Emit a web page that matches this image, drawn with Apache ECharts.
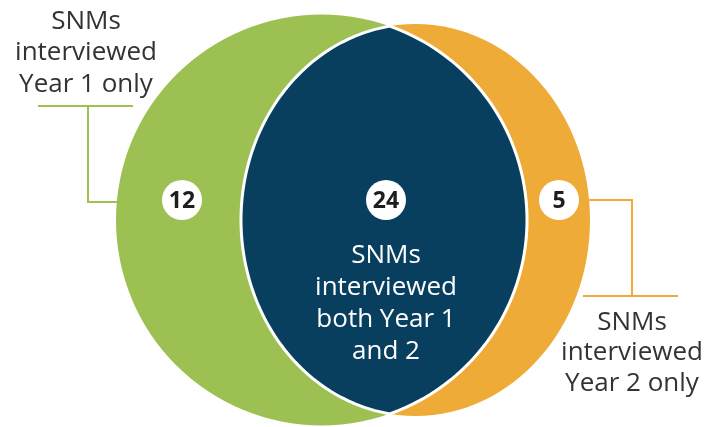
<!DOCTYPE html>
<html>
<head>
<meta charset="utf-8">
<script src="https://cdn.jsdelivr.net/npm/echarts@6/dist/echarts.min.js"></script>
<style>html,body{margin:0;padding:0;background:#fff}#c{width:707px;height:427px}</style>
</head>
<body>
<div id="c"></div>
<script>
// ---- data ----
const regions = ['Year 1 only', 'Both Year 1 and 2', 'Year 2 only'];
const counts = [12, 24, 5];
const labels = [
  'SNMs\ninterviewed\nYear 1 only',
  'SNMs\ninterviewed\nboth Year 1\nand 2',
  'SNMs\ninterviewed\nYear 2 only'
];

// ---- layout / style ----
const GREEN = '#9cc152', NAVY = '#083f5f', ORANGE = '#efab37';
const FONT = '"Open Sans", "Noto Sans", sans-serif';
const CY = 220;
const G = {cx: 321.5, r: 205.5};             // Year 1 circle
const O = {cx: 415.5, rx: 174.5, ry: 196};   // Year 2 shape
const BADGE_Y = 200;

function lensPoints() {
  const gx = dy => G.cx + Math.sqrt(Math.max(0, G.r * G.r - dy * dy));
  const ox = dy => O.cx - O.rx * Math.sqrt(Math.max(0, 1 - dy * dy / (O.ry * O.ry)));
  let lo = 0, hi = Math.min(G.r, O.ry);
  for (let i = 0; i < 60; i++) {
    const m = (lo + hi) / 2;
    if (gx(m) > ox(m)) lo = m; else hi = m;
  }
  const d = lo;
  const pts = [];
  const N = 120;
  for (let i = 0; i <= N; i++) {
    const dy = -d + 2 * d * i / N;
    pts.push([gx(dy), CY + dy]);
  }
  for (let i = 0; i <= N; i++) {
    const dy = d - 2 * d * i / N;
    pts.push([ox(dy), CY + dy]);
  }
  return pts;
}

function badge(x, val, z) {
  return [
    {type: 'circle', z2: z, shape: {cx: x, cy: BADGE_Y, r: 20}, style: {fill: '#fff'}},
    {type: 'text', z2: z + 1, style: {x: x, y: BADGE_Y + 1, text: String(val), fill: '#1e1e1e',
      font: 'bold 23px ' + FONT, align: 'center', verticalAlign: 'middle'}}
  ];
}

function renderItem(params, api) {
  const i = params.dataIndex;
  const val = api.value(0);
  const children = [];
  const txt = (x, y, t, fill, lh) => ({type: 'text', z2: 5, style: {x: x, y: y, text: t, fill: fill,
      font: '26px ' + FONT, lineHeight: lh, align: 'center', verticalAlign: 'middle'}});
  if (i === 0) {
    children.push({type: 'circle', z2: 1, shape: {cx: G.cx, cy: CY, r: G.r}, style: {fill: GREEN}});
    children.push({type: 'polyline', z2: 1, shape: {points: [[38, 106], [133, 106]]},
      style: {stroke: GREEN, lineWidth: 2, fill: null}});
    children.push({type: 'polyline', z2: 1, shape: {points: [[88, 106], [88, 202], [G.cx - G.r + 2, 202]]},
      style: {stroke: GREEN, lineWidth: 2, fill: null}});
    children.push(txt(86, 53, labels[0], '#333', 31.5));
    children.push(...badge(182, val, 10));
  } else if (i === 2) {
    children.push({type: 'ellipse', z2: 2, shape: {cx: O.cx, cy: CY, rx: O.rx, ry: O.ry}, style: {fill: ORANGE}});
    children.push({type: 'polyline', z2: 2, shape: {points: [[O.cx + O.rx - 2, 200], [632, 200], [632, 296]]},
      style: {stroke: ORANGE, lineWidth: 2, fill: null}});
    children.push({type: 'polyline', z2: 2, shape: {points: [[583, 296], [678, 296]]},
      style: {stroke: ORANGE, lineWidth: 2, fill: null}});
    children.push(txt(632, 353, labels[2], '#333', 30.5));
    children.push(...badge(559, val, 10));
  } else {
    children.push({type: 'polygon', z2: 3, shape: {points: lensPoints()},
      style: {fill: NAVY, stroke: '#fff', lineWidth: 3}});
    children.push(txt(386, 304, labels[1], '#fff', 32));
    children.push(...badge(386, val, 10));
  }
  return {type: 'group', children: children};
}

const chart = echarts.init(document.getElementById('c'), null, {renderer: 'canvas'});
chart.setOption({
  animation: false,
  series: [{
    type: 'custom',
    coordinateSystem: 'none',
    renderItem: renderItem,
    data: regions.map((name, k) => ({name: name, value: [counts[k]]}))
  }]
});
</script>
</body>
</html>
